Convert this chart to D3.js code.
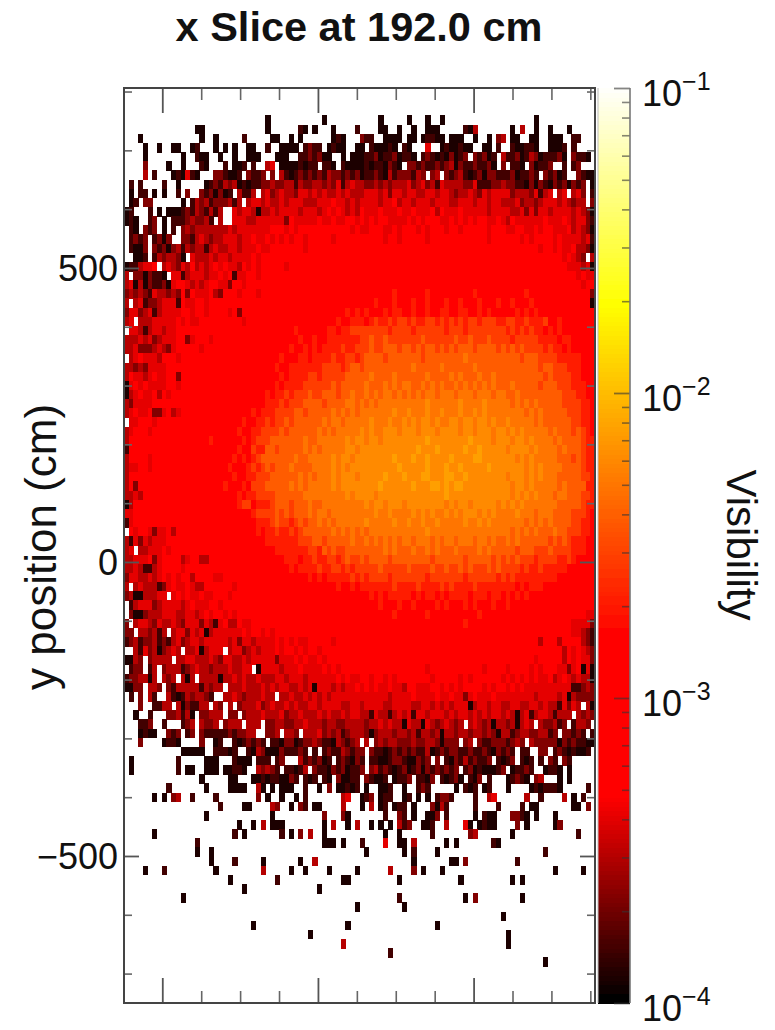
<!DOCTYPE html>
<html>
<script src="https://d3js.org/d3.v7.min.js"></script>

<head>
    <style>
        body {
            margin: 0;
            background-color: white;
        }

        svg {
            display: block;
        }

        text {
            font-family: "Liberation Sans", Arial, Helvetica, sans-serif;
            fill: #111;
        }
    </style>
</head>

<body>
</body>
<script>
    const width = 775,
        height = 1030;

    // cell levels, row 0 is the top row; "." is an empty cell
    const levelKeys = "0123456789ab";
    const levelValues = [1.2e-4, 1.5e-4, 2.2e-4, 3e-4, 4e-4, 1e-3, 2.1e-3, 2.8e-3, 3.8e-3, 4.9e-3, 6e-3, 7.4e-3];
    const rows = [
        "",
        "",
        "",
        ".......... .......... .......... 0......... ..0....... ....0..... 0...0..0.. .......... .......0..",
        ".......... .....00... .......... 0......10. 0...0....1 ....00..0. .0..000... ..103..... ..0.3..0.. 0...0.....",
        "...0...... ......0..0 .....1.... .00..0.0.. ....010... 211..0000. 00.01100.0 00..0..0.2 3.00..00.. 000..11...",
        "....0..0.. 00..01...0 .0.0..00.. 1..0000.12 11.0100..0 0.100010.1 0...4..010 0100..00.1 ..100110.. 0001.1....",
        "....0..... ..0..100.. 0..0..000. ..000..112 1200..0.00 0112011201 10.1210102 012.21201. 3112013201 1120.2110.",
        "....2....0 ..0...10.. .1.001.1.. 34.0000101 1.110.1000 010110210. 2212112123 021121120. 2.110.2011 2..1.12...",
        "....3.1... 010410...2 21001.2112 .2.3101212 1213221212 0112103122 2132.23.21 2310120221 11201121.2 1201..2100",
        ".1.1....1. .0.....012 1323010112 2322331322 3323241343 3223232333 4234231433 3322411122 3221102021 02120212.0",
        ".0.11.0.0. .1.2..2120 201.3113.3 4234332443 4343343433 3444342443 4433443443 2334324344 4423332413 4.34.342.1",
        ".01.22.... ..0.132312 22313.3443 4334344433 3444544343 4444344534 4344434443 3444344344 3334233234 44343233.2",
        "01...1.0.0 0012132131 3..4344303 3434444344 4345454343 5444544454 4544453544 4544444344 4433424244 3444434320",
        "010..12.0. 111232231. 3..4443344 4444254444 4544544554 5454554444 5454555445 4545455445 4354444445 4445434421",
        ".10.212.0. 1.23233333 3343444444 4555454555 5555555545 4455544545 5545455545 5455555455 5445544545 5444534320",
        ".1212.1202 ..22134323 3444344544 5454545545 5555455555 5555545545 5555455555 5555555455 5555454555 5454444341",
        ".1002.2120 2313233134 3344344454 4555555545 5555555555 5555555555 5555555555 5555555555 5555555545 5454453320",
        "..001.1323 320.433343 4434444545 5555555555 5555555555 5555555555 5555555555 5555555555 5555555555 55545432.3",
        "0113445.34 3243534345 4544354545 5555455555 5555555555 5555555555 5555555555 5555555555 5555555555 5555444340",
        "3.2202110. 4413444344 5451445545 5555555555 5555555555 5555555555 5555555555 5555555555 5555555555 5555554544",
        "3403021120 4554343455 4425545555 5555555555 5555555555 5555555555 5555555555 5555555555 5555555555 5555555455",
        "2323214332 3252544453 2555455545 5555555555 5555555555 5555555655 5555655555 5555655555 5555565555 5555555552",
        "3.34122344 4154455455 5555555555 5555555555 5555555555 5556555655 5655655565 5655565556 5565556555 5555555550",
        "2442341344 4455455455 5545255555 5555555555 5555555656 5655565665 5655655665 5665565655 5556565655 5555555555",
        "34.3334444 4545445555 5555545555 5555555555 5555565566 6567667677 6766776767 6767767776 6776676667 5565555555",
        ".443134434 4555555555 5555555555 5555556555 5556656677 7777776777 7677777767 7767777777 7676767665 6565555555",
        "3334342344 4552455545 5555555555 5555555655 6556666666 7787787777 7778777777 8778777877 7767777766 6656655555",
        "3342223432 4555554555 5555555555 5555565565 6566667667 7787788878 8787887878 7888788887 8787877776 7665655555",
        ".345444355 5455555555 5555555555 5556555665 6666766776 7888878888 8887888888 8898888888 8888788877 7766666555",
        "3323244445 5555555555 5555555555 5565566666 6677776788 7888888888 8988888988 8888988888 8888888878 8777666555",
        "3544345445 5255555555 5555555555 5556566667 7677777888 8898888988 8888988889 8988898898 8888888887 8777766555",
        "0454544445 5455555555 5555555555 5565666677 7777878888 8988898989 9889898988 9898989898 8898888878 8877766655",
        "0345445354 5555555555 5555555555 6566767778 7788878898 8989899898 9898998999 8999899989 9889888888 8887776655",
        "3244445555 5555555555 5555555555 6667677788 8878888998 9898999999 9999a99999 9a9999a999 9989898988 8887777665",
        "3454452245 3455555555 5555555656 6677778878 8888989898 9999999a99 a999a99a99 9a99a9a999 9999989898 8888777665",
        ".445554555 5555555555 5555565566 7677878888 8898998999 99a999a99a 9a9aa9a99a a9aa9aa9a9 9a99999898 8888877665",
        "3455545555 5555555555 5555655667 7778788888 8989899999 a9a99aaa9a aa9aaa9aaa a9aa9aaa9a a9a9a99999 8988878765",
        "3555555555 5555555565 5555565677 7888888898 8999999a9a a9aa9aaaaa aaaabaaaaa aaabaaaa9a aa9aa9a999 9898888766",
        "1555555555 5555555555 5555655766 8878888898 9899999aa9 aaaaaaaaaa aabaaabaaa aabaabaaaa a9aaaa9a99 9989888766",
        "3555545555 5555555555 5556565678 8888889889 9999a9aa9a aaaaaaabaa abaabaaaab aaaabbaaaa aaa9a9a999 9988878766",
        "3445545555 5555555555 5565556767 8788898888 9999a9a9aa aaaaaaaaba aaaabaaaba abaaaaabaa aaaaa9a9a9 9998888766",
        "3555555555 5555555555 5556556677 7888888989 8999a9aaa9 aaaaabaaab aaabbaaabb aabaaaaaaa a9aaa9a9a9 9988888776",
        "3525555555 5555555555 5655565777 8888898989 9999a9aaaa aaaabaaaaa abaaabbaba bbaaaaaaaa aa9aa9a999 9989888866",
        "3343555555 5555555555 5555656677 7788888899 9999999a9a aaa9aaaaaa aaaaaaaaba aaaaaaaaaa aa9a9a9a99 9899888776",
        "0355555555 5555555555 5555677566 6788878889 8899999999 9a9aa9aaa9 aaaaaaaa9a 9aa9aaaaa9 a9a9a99999 9988888766",
        "4455555555 5555555555 5555555677 7787878889 8998999999 999a99a999 9a9a9a99a9 a9aaa9a9a9 999a999899 9888877765",
        "1455555555 5555555555 5555555566 6787767878 8989899999 9a99999a99 a99a99a999 99a99a9a99 9999989898 9888877665",
        ".545542445 3555555555 5555555565 6676676788 8888989898 9899999999 9999a99999 9999999999 9989898988 8988777665",
        "3142434445 5555555555 5555555555 6666666777 8878888898 8989898989 9899989899 8999899898 8989888888 7878766655",
        "34.3344454 5555555555 5555555555 5566666667 7687877888 8888898988 8988989888 9888898988 8887888777 8777766655",
        "3344452455 5534553355 5555555555 5555666566 7667767877 8788887888 8888878888 8878888878 7878777677 7766765555",
        "3343113455 5545555555 5555555555 5555565666 6766776767 7777877777 8777787787 7878777878 7777676676 6666555555",
        "2443343454 5455355554 4555555555 5555555556 5656666676 7677776777 7777677777 7767777776 7676666666 6655555555",
        "3.34333124 5445433555 5554555555 5555555555 5555565565 6666666766 6676666767 6666766666 6665656665 5555555555",
        "230033344. 4545445445 5545555555 5555555555 5555555555 5565656666 6565665656 6665666566 5656565555 5555555555",
        ".134442344 4434544455 4555555555 5555555555 5555555555 5555655565 5655556565 5565655565 5655555555 5555555555",
        ".200233344 4334434545 5454555555 5555555555 5555555555 5555555655 5555655555 5555565555 5555555555 5555555544",
        "2.34432433 4324442431 4533544555 5555555555 5555555555 5555555555 5555555555 5565555555 5555555555 5555544442",
        "22.332313. 3442434034 4444454554 5455555555 5555555555 5555555555 5555555555 5555555555 5555555555 5555544321",
        "1231223121 3423443444 4434244344 4454545445 5555455555 5555555555 5555555555 5555555555 5555555535 5535555321",
        "..31423023 43.3340344 4.34423434 4454554545 5455555555 5555555555 5555555555 5555555555 5555555555 5553545432",
        "0032.23333 .334433343 2443343444 4424445454 4545555555 5555555555 5555555555 5555555555 5555555455 5553545442",
        ".122.13.23 3312343323 3343344.04 4443444544 4454545555 5555555555 5555455555 5555554555 5455554545 5544245040",
        "1223303.32 3.303.3333 0334343343 3344344434 4444454544 5545545455 5555545555 5454555555 4545454544 5345434330",
        "0022.332.2 1333331323 3.33343334 3434433434 0444343445 4545445443 5544455454 5455554545 5454544444 4444411232",
        ".1.2.31..3 101323321. .334323334 33.3343343 4343444444 4444443444 4544445445 4424544454 4444444344 4434032222",
        "...2..1133 .3021133.3 2.3.233342 3433434334 4344443344 3444433444 4334434343 4440344344 3344334434 3314243.30",
        "..0..1...2 23130.2233 3.22.23334 3334233433 3434334344 3314331343 4144344434 3443434344 3430341344 31333.3232",
        "...112..1. ..123.3223 .2333.333. 2233223343 3323322333 3233434330 4330432343 23.3432303 3230343.32 2312.1332.",
        "...0100..2 12.12.2111 11212233.. 223.332.33 3423231233 3202333233 2313323033 2332332320 3312332233 12.22121.1",
        "...2....01 10....2..0 1..1012121 .110220122 3211032123 .3.2323322 2322332022 2.23.21122 21232.3222 2202121100",
        ".......... ..00000..1 1101..1032 000211121. 1.12113212 2.21101212 1211301212 2112112102 121.11..22 .12101001.",
        ".0........ .1.....000 ...1000.11 1.12...312 1201.12102 1.11001221 00212.2.10 21312112.1 012.101.1. 21.21.....",
        ".0........ .1.00..000 .00110..32 321.11013. 2110212011 2.23121012 0120212121 2.12010001 2.01121..0 110.0.....",
        ".......... ......0... ..00...001 0110021.10 1.10.20011 .21001.011 2.1102.101 20.102.1.. .01210.23. ..0.0.....",
        ".........1 .......0.. ..0000..30 .0.000..1. .0.2.00101 .0..001..0 ..121..... 0.101.01.. .0....0101 110.....1.",
        "......0.0. 23..1....1 ........2. 0..0..0.1. ......34.. 012.011..0 1.0.0.1221 ....1..34. .....3..1. ...3.0.1..",
        ".......... .......... 1....00... .32..0.21. 00....3... 0.3.01.011 .0...2031. ....1....1 ....1.00.. .....00.2.",
        ".......... .......0.. .......... .0........ ..2...20.. .....1..21 .0..002.1. ....0.100. ..2210.0.. .0........",
        ".......... .......... ....0..0.3 .000...... ..0.3..0.3 ..0.0.0.31 2..001..3. ..40.0100. ...2.0.... .02.......",
        "......0... .......... ...1.0.... ...1.0.2.3 ..0....... .....0..0. .....1.... ...23..... ..0....... ......1...",
        ".......... .....1.... .......... .......... ..000.0... 1....4..00 .3......0. 0.......10",
        ".......... .....0..0. .......... .......... .......... .0.......0 .1....0... .......... .........1",
        ".......... ........0. ...1.....0 .......0.. 3......... .......... .0.......0 0.2....... ...1......",
        "....0...1. .........0 .........3 .....0..0. ...0.....0 ......3... .2.0...0.. .......... .......... .0.....0..",
        ".......... .......... ..0....... ..1....... ......00.. ........0. .......... .0........ ..0.0.....",
        ".......... .......... .....0.... .......... .0........",
        ".......... ..0....... .......... .......... .......... ........1. .......... ..0.2..... ....0.....",
        ".......... .......... .......... .......... .........0 .........0",
        ".......... .......... .......... .......... .......... .......... .......... .......... 0.........",
        ".......... .......... .......0.. .......... .......0.. .......... ......0...",
        ".......... .......... .......... .........0 .......... .......... .......... .......... .0........",
        ".......... .......... .......... .......... ......3... .......... .......... .......... .0........",
        ".......... .......... .......... .......... .......... ......1...",
        ".......... .......... .......... .......... .......... .......... .......... .......... .........0",
        "",
        "",
        "",
        ""
    ];

    const xMajor = [-500, 0, 500];
    const xMinor = [-375, -250, -125, 125, 250, 375, 625, 750, 875];
    const yMajor = [-500, 0, 500];
    const yMinor = [-700, -600, -400, -300, -200, -100, 100, 200, 300, 400, 600, 700, 800];
    const barMajor = [1e-4, 1e-3, 1e-2, 1e-1];
    const barMinor = d3.range(-4, -1).flatMap(p => d3.range(2, 10).map(m => m * Math.pow(10, p)));
    const barExponents = ["\u22124", "\u22123", "\u22122", "\u22121"];

    const plot = { left: 124, right: 595, top: 88, bottom: 1003 };
    const bar = { left: 598, right: 630 };

    const svg = d3.select("body").append("svg").attr("width", width).attr("height", height);

    svg.append("filter").attr("id", "soft")
        .attr("x", "-2%").attr("y", "-2%").attr("width", "104%").attr("height", "104%")
        .append("feGaussianBlur").attr("stdDeviation", 0.45);

    const colorScale = d3.scaleLog()
        .domain([1e-4, Math.pow(10, -3.33), Math.pow(10, -2.81), Math.pow(10, -1.72), 1e-1])
        .range(["#000000", "#ff0000", "#ff0000", "#ffff00", "#ffffff"]);

    const colScale = d3.scaleBand().domain(d3.range(100)).range([plot.left, plot.right]);
    const rowScale = d3.scaleBand().domain(d3.range(100)).range([plot.top, plot.bottom]);
    const xScale = d3.scaleLinear().domain([-623, 890]).range([plot.left, plot.right]);
    const yScale = d3.scaleLinear().domain([-750, 806]).range([plot.bottom, plot.top]);
    const barScale = d3.scaleLog().domain([1e-4, 1e-1]).range([plot.bottom, plot.top]);

    // turn the typed rows into one record per filled cell
    function readCells() {
        const cells = [];
        rows.forEach((row, r) => {
            row.replace(/ /g, "").split("").forEach((ch, c) => {
                if (ch !== ".") cells.push({ r: r, c: c, value: levelValues[levelKeys.indexOf(ch)] });
            });
        });
        return cells;
    }

    function drawCells() {
        svg.append("g").attr("filter", "url(#soft)")
            .selectAll("rect").data(readCells()).join("rect")
            .attr("x", d => colScale(d.c))
            .attr("y", d => rowScale(d.r))
            .attr("width", colScale.bandwidth() + 0.5)
            .attr("height", rowScale.bandwidth() + 0.5)
            .attr("shape-rendering", "crispEdges")
            .attr("fill", d => colorScale(d.value));
    }

    function drawBar() {
        const steps = d3.range(0, 200).map(i => Math.pow(10, -4 + i * 3 / 200));
        svg.append("g").attr("filter", "url(#soft)")
            .selectAll("rect").data(steps).join("rect")
            .attr("x", bar.left)
            .attr("width", bar.right - bar.left)
            .attr("y", d => barScale(d * Math.pow(10, 3 / 200)))
            .attr("height", (plot.bottom - plot.top) / 200 + 0.5)
            .attr("shape-rendering", "crispEdges")
            .attr("fill", d => colorScale(d));
    }

    function tickStyle(g, color, w) {
        g.select(".domain").remove();
        g.selectAll("line").attr("stroke", color).attr("stroke-width", w);
    }

    function drawAxes() {
        const minorColor = "#666", majorColor = "#555";
        [[d3.axisBottom, plot.top], [d3.axisTop, plot.bottom]].forEach(([axis, y]) => {
            svg.append("g").attr("transform", `translate(0,${y})`)
                .call(axis(xScale).tickValues(xMinor).tickSize(12).tickFormat(""))
                .call(tickStyle, minorColor, 1.6);
            svg.append("g").attr("transform", `translate(0,${y})`)
                .call(axis(xScale).tickValues(xMajor).tickSize(25).tickFormat(""))
                .call(tickStyle, majorColor, 1.8);
        });

        svg.append("g").attr("transform", `translate(${plot.left},0)`)
            .call(d3.axisRight(yScale).tickValues(yMinor).tickSize(8).tickFormat(""))
            .call(tickStyle, minorColor, 1.6);
        svg.append("g").attr("transform", `translate(${plot.right},0)`)
            .call(d3.axisLeft(yScale).tickValues(yMinor).tickSize(8).tickFormat(""))
            .call(tickStyle, minorColor, 1.6);
        svg.append("g").attr("transform", `translate(${plot.right},0)`)
            .call(d3.axisLeft(yScale).tickValues(yMajor).tickSize(15).tickFormat(""))
            .call(tickStyle, majorColor, 1.8);

        const left = svg.append("g").attr("transform", `translate(${plot.left},0)`)
            .call(d3.axisLeft(yScale).tickValues(yMajor).tickSize(-15).tickPadding(6)
                .tickFormat(d => d < 0 ? "\u2212" + Math.abs(d) : d))
            .call(tickStyle, majorColor, 1.8);
        left.selectAll("text").attr("font-size", 36).attr("dy", "0.36em")
            .style("font-family", "'Liberation Sans'").attr("fill", "#111");

        svg.append("rect")
            .attr("x", plot.left).attr("y", plot.top)
            .attr("width", plot.right - plot.left).attr("height", plot.bottom - plot.top)
            .attr("fill", "none").attr("stroke", "#444").attr("stroke-width", 2);
    }

    function drawBarAxis() {
        svg.append("g").attr("transform", `translate(${bar.right},0)`)
            .call(d3.axisLeft(barScale).tickValues(barMinor).tickSize(8).tickFormat(""))
            .call(tickStyle, "#333", 1.6)
            .selectAll("line").attr("opacity", 0.6);
        svg.append("g").attr("transform", `translate(${bar.right},0)`)
            .call(d3.axisLeft(barScale).tickValues(barMajor).tickSize(16).tickFormat(""))
            .call(tickStyle, "#333", 1.8)
            .selectAll("line").attr("opacity", 0.6);

        svg.append("line")
            .attr("x1", bar.right).attr("x2", bar.right)
            .attr("y1", plot.top).attr("y2", plot.bottom)
            .attr("stroke", "#777").attr("stroke-width", 1.6);
        svg.append("line")
            .attr("x1", bar.left).attr("x2", bar.left)
            .attr("y1", plot.top).attr("y2", plot.bottom)
            .attr("stroke", "#bbb").attr("stroke-width", 1);

        barMajor.forEach((d, i) => {
            const label = svg.append("text")
                .attr("x", 642)
                .attr("y", barScale(d) + 18)
                .attr("font-size", 36)
                .text("10");
            label.append("tspan")
                .attr("font-size", 25)
                .attr("dy", -16)
                .text(barExponents[i]);
        });
    }

    function drawLabels() {
        svg.append("text")
            .attr("x", 359).attr("y", 41)
            .attr("text-anchor", "middle")
            .attr("font-size", 41.5)
            .attr("font-weight", "bold")
            .text("x Slice at 192.0 cm");
        svg.append("text")
            .attr("transform", "translate(56,547) rotate(-90)")
            .attr("text-anchor", "middle")
            .attr("font-size", 44)
            .text("y position (cm)");
        svg.append("text")
            .attr("transform", "translate(727,545) rotate(90)")
            .attr("text-anchor", "middle")
            .attr("font-size", 42)
            .text("Visibility");
    }

    drawCells();
    drawBar();
    drawAxes();
    drawBarAxis();
    drawLabels();
</script>

</html>
